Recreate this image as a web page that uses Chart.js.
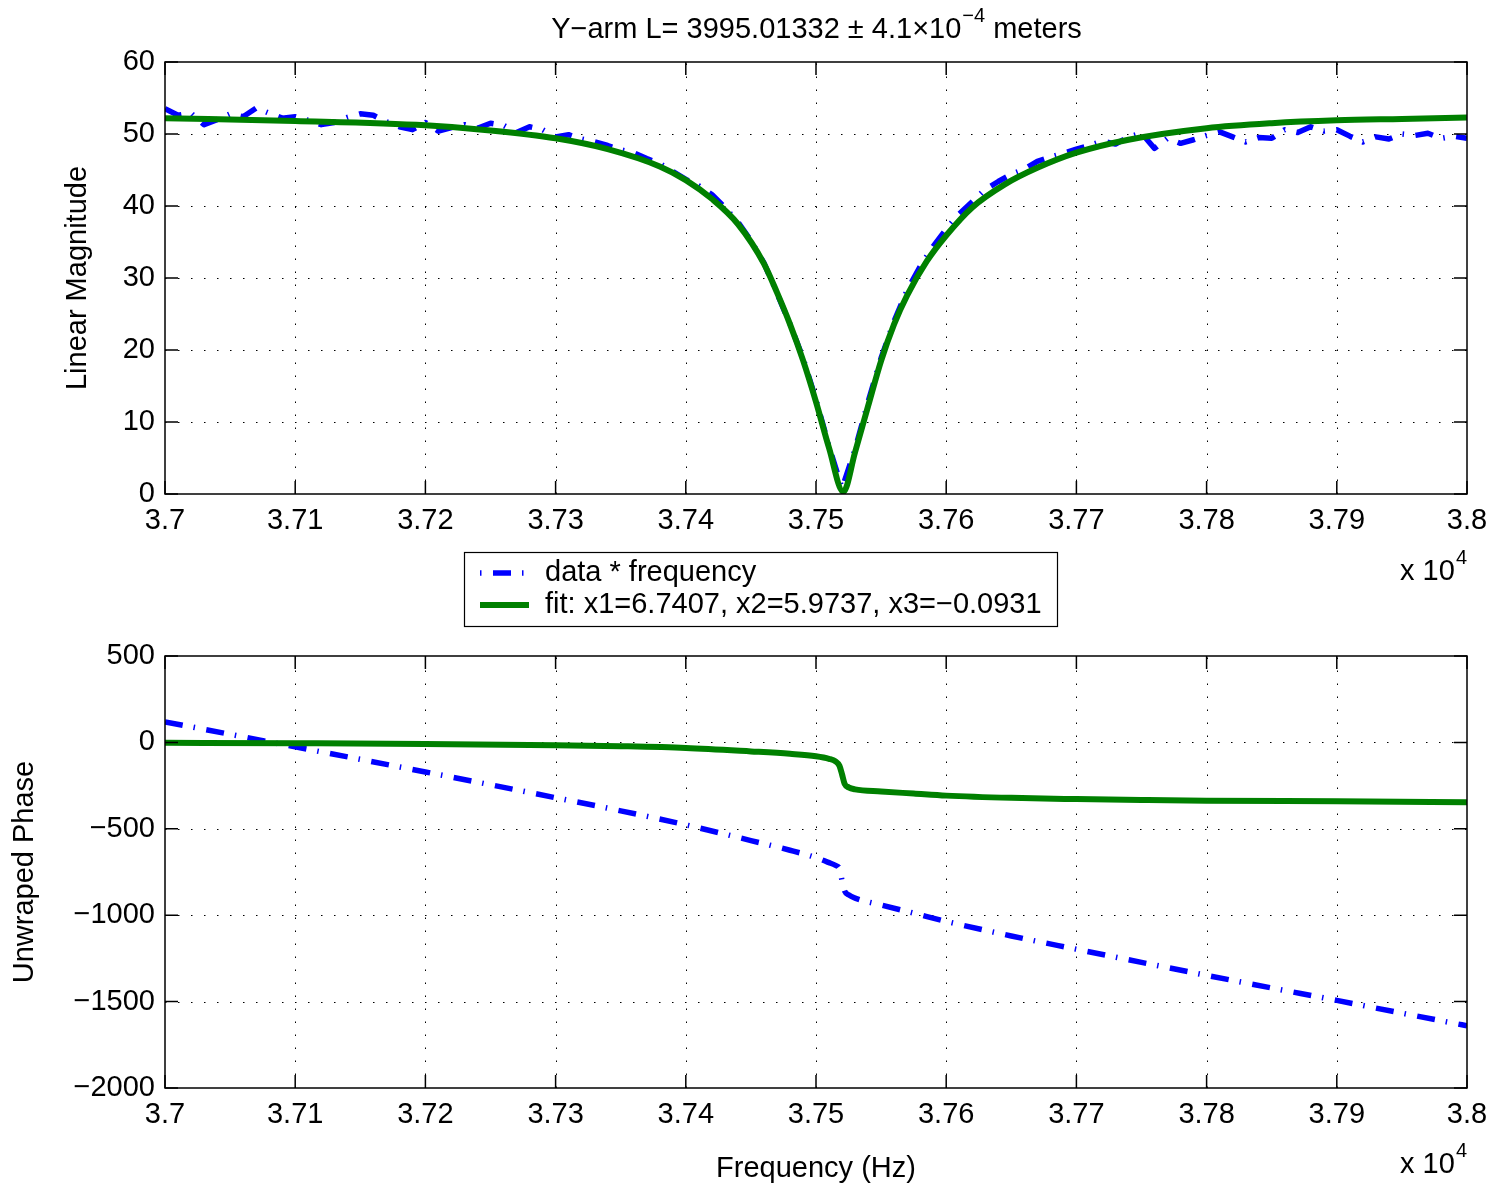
<!DOCTYPE html>
<html><head><meta charset="utf-8">
<script src="https://cdn.jsdelivr.net/npm/chart.js@4.4.1/dist/chart.umd.min.js"></script>
<style>
html,body{margin:0;padding:0;background:#fff;}
#wrap{position:relative;width:1499px;height:1190px;overflow:hidden;background:#fff;}
#c1{position:absolute;left:0;top:0;width:1499px;height:640px;}
#c2{position:absolute;left:0;top:600px;width:1499px;height:590px;}
</style></head><body>
<div id="wrap"><canvas id="c1" width="1499" height="640"></canvas><canvas id="c2" width="1499" height="590"></canvas></div>
<script>
// ---------- data ----------
const xTickValues = [37000,37100,37200,37300,37400,37500,37600,37700,37800,37900,38000];
const xTickLabels = ['3.7','3.71','3.72','3.73','3.74','3.75','3.76','3.77','3.78','3.79','3.8'];
const magTickValues = [0,10,20,30,40,50,60];
const magTickLabels = ['0','10','20','30','40','50','60'];
const phaseTickValues = [-2000,-1500,-1000,-500,0,500];
const phaseTickLabels = ['\u22122000','\u22121500','\u22121000','\u2212500','0','500'];

const titleMain = 'Y\u2212arm L= 3995.01332 \u00b1 4.1\u00d710';
const titleSup = '\u22124';
const titleTail = ' meters';
const xScaleBase = 'x 10';
const xScaleExp = '4';
const magAxisTitle = 'Linear Magnitude';
const phaseAxisTitle = 'Unwraped Phase';
const freqAxisTitle = 'Frequency (Hz)';
const dataLabel = 'data * frequency';
const fitLabel = 'fit: x1=6.7407, x2=5.9737, x3=\u22120.0931';

// measured magnitude (blue)
const magFreq = [37000,37010,37020,37030,37040,37050,37060,37070,37080,37090,
 37100,37110,37120,37130,37140,37150,37160,37170,37180,37190,
 37200,37210,37220,37230,37240,37250,37260,37270,37280,37290,
 37300,37310,37320,37330,37340,37350,37360,37370,37380,37390,
 37400,37410,37420,37430,37440,37450,37460,37470,37480,37490,
 37500,37510,37520,37530,37540,37550,37560,37570,37580,37590,
 37600,37610,37620,37630,37640,37650,37660,37670,37680,37690,
 37700,37710,37720,37730,37740,37750,37760,37770,37780,37790,
 37800,37810,37820,37830,37840,37850,37860,37870,37880,37890,
 37900,37910,37920,37930,37940,37950,37960,37970,37980,37990,38000];
const magData = [53.5,52.6,52.9,51.3,52.0,52.8,52.4,53.6,52.9,52.2,
 52.4,51.9,51.3,51.6,52.3,52.8,52.6,51.7,51.0,50.6,
 51.6,50.4,50.9,51.3,50.8,51.5,51.2,50.2,51.0,50.6,
 49.6,49.9,49.3,48.9,48.4,47.8,47.4,46.6,45.9,44.8,
 43.7,42.8,41.6,39.8,37.8,35.2,32.1,27.9,23.6,18.9,
 13.1,6.6,0.8,6.2,12.8,18.9,24.0,28.3,31.6,34.4,
 36.8,38.9,40.6,42.3,43.4,44.4,45.1,46.2,46.8,47.3,
 47.9,48.4,49.0,48.6,49.6,50.1,48.0,49.4,48.7,49.2,
 49.8,50.3,49.6,48.9,49.5,49.4,50.6,50.2,51.0,50.4,
 50.6,49.7,48.9,49.6,49.3,50.0,49.8,50.1,49.4,49.7,49.4];

// fitted magnitude (green)
const fitMagFreq = [37000,37100,37200,37250,37300,37340,37380,37400,37420,37440,37460,37470,37480,37490,37500,37510,37521,37530,37540,37550,37560,37570,37585,37600,37620,37645,37670,37700,37740,37800,37850,37900,37950,38000];
const fitMag = [52.2,51.8,51.2,50.5,49.4,47.9,45.5,43.6,41.0,37.5,32.0,28.0,23.6,18.6,12.8,6.4,0.3,5.8,12.2,18.5,23.6,27.6,32.3,35.9,39.8,43.0,45.3,47.4,49.2,50.8,51.5,51.9,52.1,52.3];

// measured unwrapped phase (blue)
const phaseFreq = [37000,37050,37100,37150,37200,37250,37300,37350,37400,37450,37480,37500,37510,37515,37518,37520,37522,37525,37530,37550,37575,37600,37650,37700,37750,37800,37850,37900,37950,38000];
const phaseData = [119,47,-26,-98,-171,-245,-320,-396,-477,-568,-624,-667,-696,-712,-730,-800,-860,-882,-901,-941,-988,-1036,-1120,-1197,-1273,-1348,-1421,-1493,-1567,-1640];

// fitted phase (green)
const fitPhaseFreq = [37000,37100,37200,37300,37350,37400,37450,37480,37500,37510,37515,37518,37520,37522,37525,37530,37550,37575,37600,37650,37700,37750,37800,37900,38000];
const fitPhase = [-2,-5,-9,-16,-22,-32,-52,-66,-80,-95,-110,-135,-185,-240,-260,-272,-284,-296,-308,-321,-328,-333,-337,-341,-346];

// ---------- styling ----------
const FONT = '"Liberation Sans", Arial, Helvetica, sans-serif';
Chart.defaults.font.family = FONT;
Chart.defaults.color = '#000';
const TICK_PX = 29, LABEL_PX = 29, SUP_PX = 20;
const BLUE = '#0000ff', GREEN = '#008000';
const DASHDOT = [18, 11, 1.5, 11.5];

const pts = (xs, ys) => xs.map((x, i) => ({x: x, y: ys[i]}));

function framePlugin(){
  return {
    id: 'frame',
    beforeDatasetsDraw(chart){
      const {ctx, chartArea: a} = chart;
      const xs = chart.scales.x, ys = chart.scales.y;
      ctx.save();
      ctx.strokeStyle = '#000'; ctx.lineWidth = 1; ctx.setLineDash([1.5, 11.5]);
      for (const t of xs.ticks){
        const p = Math.round(xs.getPixelForValue(t.value)) + 0.5;
        if (p < a.left + 2 || p > a.right - 2) continue;
        ctx.beginPath(); ctx.moveTo(p, a.bottom); ctx.lineTo(p, a.top); ctx.stroke();
      }
      for (const t of ys.ticks){
        const p = Math.round(ys.getPixelForValue(t.value)) + 0.5;
        if (p < a.top + 2 || p > a.bottom - 2) continue;
        ctx.beginPath(); ctx.moveTo(a.left, p); ctx.lineTo(a.right, p); ctx.stroke();
      }
      ctx.restore();
    },
    afterDatasetsDraw(chart){
      const {ctx, chartArea: a} = chart;
      const xs = chart.scales.x, ys = chart.scales.y;
      const TL = 13;
      ctx.save();
      ctx.strokeStyle = '#000'; ctx.lineWidth = 1.5; ctx.setLineDash([]);
      ctx.strokeRect(a.left, a.top, a.right - a.left, a.bottom - a.top);
      ctx.beginPath();
      for (const t of xs.ticks){
        const p = xs.getPixelForValue(t.value);
        ctx.moveTo(p, a.bottom); ctx.lineTo(p, a.bottom - TL);
        ctx.moveTo(p, a.top); ctx.lineTo(p, a.top + TL);
      }
      for (const t of ys.ticks){
        const p = ys.getPixelForValue(t.value);
        ctx.moveTo(a.left, p); ctx.lineTo(a.left + TL, p);
        ctx.moveTo(a.right, p); ctx.lineTo(a.right - TL, p);
      }
      ctx.stroke();
      ctx.restore();
    }
  };
}

function drawExponent(ctx, right, baseline){
  ctx.save();
  ctx.fillStyle = '#000'; ctx.textBaseline = 'alphabetic'; ctx.textAlign = 'left';
  ctx.font = SUP_PX + 'px ' + FONT;
  const we = ctx.measureText(xScaleExp).width;
  ctx.font = TICK_PX + 'px ' + FONT;
  const wb = ctx.measureText(xScaleBase).width;
  const x0 = right - we - wb - 1;
  ctx.fillText(xScaleBase, x0, baseline);
  ctx.font = SUP_PX + 'px ' + FONT;
  ctx.fillText(xScaleExp, x0 + wb + 1, baseline - 16);
  ctx.restore();
}

const topTextPlugin = {
  id: 'topText',
  afterDraw(chart){
    const {ctx, chartArea: a} = chart;
    ctx.save();
    // title
    ctx.fillStyle = '#000'; ctx.textBaseline = 'alphabetic'; ctx.textAlign = 'left';
    ctx.font = LABEL_PX + 'px ' + FONT;
    const w1 = ctx.measureText(titleMain).width;
    const w3 = ctx.measureText(titleTail).width;
    ctx.font = SUP_PX + 'px ' + FONT;
    const w2 = ctx.measureText(titleSup).width;
    const cx = (a.left + a.right) / 2;
    const x = cx - (w1 + w2 + w3) / 2;
    const base = 38;
    ctx.font = LABEL_PX + 'px ' + FONT;
    ctx.fillText(titleMain, x, base);
    ctx.font = SUP_PX + 'px ' + FONT;
    ctx.fillText(titleSup, x + w1 + 1, base - 16);
    ctx.font = LABEL_PX + 'px ' + FONT;
    ctx.fillText(titleTail, x + w1 + w2 + 1, base);
    ctx.restore();

    drawExponent(ctx, a.right, 580);

    // legend
    const L = {x: 464, y: 552, w: 593, h: 74};
    ctx.save();
    ctx.fillStyle = '#fff';
    ctx.fillRect(L.x, L.y, L.w, L.h);
    ctx.strokeStyle = '#000'; ctx.lineWidth = 1.2;
    ctx.strokeRect(L.x + 0.5, L.y + 0.5, L.w, L.h);
    const rows = [573, 605];
    chart.data.datasets.forEach((ds, i) => {
      const y = rows[i];
      ctx.save();
      ctx.strokeStyle = ds.borderColor; ctx.lineWidth = ds.borderWidth;
      ctx.lineCap = 'butt';
      if (ds.borderDash && ds.borderDash.length){
        ctx.setLineDash([1.5, 11.5, 18, 11]);
      } else ctx.setLineDash([]);
      ctx.beginPath(); ctx.moveTo(480, y); ctx.lineTo(529, y); ctx.stroke();
      ctx.restore();
      ctx.fillStyle = '#000'; ctx.font = LABEL_PX + 'px ' + FONT;
      ctx.textBaseline = 'middle'; ctx.textAlign = 'left';
      ctx.fillText(ds.label, 545, y);
    });
    ctx.restore();
  }
};

const bottomTextPlugin = {
  id: 'bottomText',
  afterDraw(chart){
    drawExponent(chart.ctx, chart.chartArea.right, 573);
  }
};

function xScale(height, title){
  return {
    type: 'linear', min: 37000, max: 38000,
    afterBuildTicks: s => { s.ticks = xTickValues.map(v => ({value: v})); },
    afterFit: s => { s.height = height; },
    ticks: {callback: (v, i) => xTickLabels[i], font: {size: TICK_PX}, color: '#000', padding: 10, maxRotation: 0, autoSkip: false},
    grid: {display: false, drawTicks: false},
    border: {display: false},
    title: title ? {display: true, text: title, font: {size: LABEL_PX}, color: '#000', padding: {top: 0, bottom: 4}} : {display: false}
  };
}
function yScale(min, max, vals, labels, title, titlePad){
  return {
    type: 'linear', min: min, max: max,
    afterBuildTicks: s => { s.ticks = vals.map(v => ({value: v})); },
    afterFit: s => { s.width = 165; },
    ticks: {callback: (v, i) => labels[i], font: {size: TICK_PX}, color: '#000', padding: 10, autoSkip: false},
    grid: {display: false, drawTicks: false},
    border: {display: false},
    title: {display: true, text: title, font: {size: LABEL_PX}, color: '#000', padding: {top: titlePad, bottom: 0}}
  };
}

const common = {
  responsive: false, animation: false, devicePixelRatio: 1,
  plugins: {legend: {display: false}, tooltip: {enabled: false}, title: {display: false}},
  elements: {point: {radius: 0}, line: {borderJoinStyle: 'round', borderCapStyle: 'butt'}}
};

new Chart(document.getElementById('c1'), {
  type: 'line',
  data: {datasets: [
    {label: dataLabel, data: pts(magFreq, magData), borderColor: BLUE, borderWidth: 5.5, borderDash: DASHDOT, tension: 0, order: 1, pointRadius: 0},
    {label: fitLabel, data: pts(fitMagFreq, fitMag), borderColor: GREEN, borderWidth: 6, cubicInterpolationMode: 'monotone', order: 0, pointRadius: 0}
  ]},
  options: Object.assign({}, common, {
    layout: {padding: {left: 0, right: 32, top: 62, bottom: 0}},
    scales: {
      x: xScale(146, null),
      y: yScale(0, 60, magTickValues, magTickLabels, magAxisTitle, 61)
    }
  }),
  plugins: [framePlugin(), topTextPlugin]
});

new Chart(document.getElementById('c2'), {
  type: 'line',
  data: {datasets: [
    {label: dataLabel, data: pts(phaseFreq, phaseData), borderColor: BLUE, borderWidth: 5.5, borderDash: DASHDOT, cubicInterpolationMode: 'monotone', order: 1, pointRadius: 0},
    {label: fitLabel, data: pts(fitPhaseFreq, fitPhase), borderColor: GREEN, borderWidth: 6, cubicInterpolationMode: 'monotone', order: 0, pointRadius: 0}
  ]},
  options: Object.assign({}, common, {
    layout: {padding: {left: 0, right: 32, top: 56, bottom: 0}},
    scales: {
      x: xScale(102, freqAxisTitle),
      y: yScale(-2000, 500, phaseTickValues, phaseTickLabels, phaseAxisTitle, 8)
    }
  }),
  plugins: [framePlugin(), bottomTextPlugin]
});
</script>
</body></html>
